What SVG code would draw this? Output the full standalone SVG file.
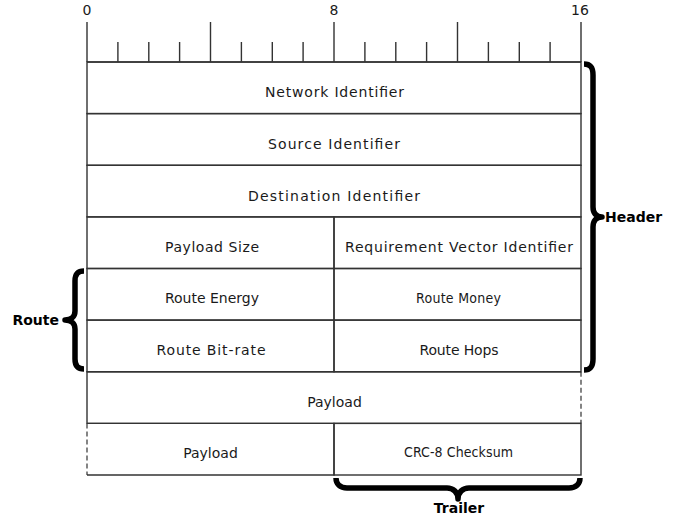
<svg xmlns="http://www.w3.org/2000/svg" width="684" height="516" viewBox="0 0 684 516">
<style>
.bg{fill:#ffffff}
.ln{stroke:#333333;stroke-width:1.4;fill:none}
.dash{stroke:#333333;stroke-width:1.2;fill:none;stroke-dasharray:5,3}
.t{font-family:"DejaVu Sans","Liberation Sans",sans-serif;font-size:14px;fill:#1a1a1a;text-anchor:middle}
.s{font-stretch:condensed}
.b{font-family:"DejaVu Sans","Liberation Sans",sans-serif;font-size:14px;font-weight:bold;fill:#000000}
.br{stroke:#000000;stroke-width:5.5;fill:none;stroke-linejoin:round}
</style>
<rect class="bg" x="0" y="0" width="684" height="516"/>
<g id="ruler">
<line class="ln" x1="87" y1="62" x2="581" y2="62"/>
<path class="ln" d="M87,22V62 M210.5,22V62 M334,22V62 M457.5,22V62 M581,22V62"/>
<path class="ln" d="M117.9,42V62 M148.8,42V62 M179.6,42V62 M241.4,42V62 M272.3,42V62 M303.1,42V62 M364.9,42V62 M395.8,42V62 M426.6,42V62 M488.4,42V62 M519.3,42V62 M550.1,42V62"/>
<text class="t" x="87" y="15">0</text>
<text class="t" x="334" y="15">8</text>
<text class="t" x="580" y="15">16</text>
</g>
<g id="network-identifier">
<rect class="ln" x="87" y="62" width="494" height="51.6"/>
<text class="t" x="334.5" y="96.7" textLength="139" lengthAdjust="spacing">Network Identifier</text>
</g>
<g id="source-identifier">
<rect class="ln" x="87" y="113.6" width="494" height="51.7"/>
<text class="t" x="334" y="149" textLength="132" lengthAdjust="spacing">Source Identifier</text>
</g>
<g id="destination-identifier">
<rect class="ln" x="87" y="165.3" width="494" height="51.6"/>
<text class="t" x="334" y="200.5" textLength="172" lengthAdjust="spacing">Destination Identifier</text>
</g>
<g id="payload-size">
<rect class="ln" x="87" y="216.9" width="247" height="51.6"/>
<text class="t" x="212" y="251.5" textLength="94" lengthAdjust="spacing">Payload Size</text>
</g>
<g id="requirement-vector-identifier">
<rect class="ln" x="334" y="216.9" width="247" height="51.6"/>
<text class="t" x="459" y="251.5" textLength="228" lengthAdjust="spacing">Requirement Vector Identifier</text>
</g>
<g id="route-energy">
<rect class="ln" x="87" y="268.5" width="247" height="51.6"/>
<text class="t" x="212" y="303">Route Energy</text>
</g>
<g id="route-money">
<rect class="ln" x="334" y="268.5" width="247" height="51.6"/>
<text class="t s" x="458.5" y="303" textLength="85" lengthAdjust="spacing">Route Money</text>
</g>
<g id="route-bit-rate">
<rect class="ln" x="87" y="320.1" width="247" height="51.7"/>
<text class="t" x="211" y="355" textLength="109" lengthAdjust="spacing">Route Bit-rate</text>
</g>
<g id="route-hops">
<rect class="ln" x="334" y="320.1" width="247" height="51.7"/>
<text class="t" x="459" y="355" textLength="79" lengthAdjust="spacing">Route Hops</text>
</g>
<g id="payload-1">
<path class="ln" d="M581,371.8H87V423.4H581"/>
<line class="dash" x1="581" y1="371.8" x2="581" y2="423.4"/>
<text class="t" x="334.5" y="406.5">Payload</text>
</g>
<g id="payload-2">
<path class="ln" d="M87,423.4H334V475H87"/>
<line class="dash" x1="87" y1="423.4" x2="87" y2="475"/>
<text class="t" x="210.5" y="458">Payload</text>
</g>
<g id="crc-8-checksum">
<rect class="ln" x="334" y="423.4" width="247" height="51.6"/>
<text class="t s" x="458.5" y="457" textLength="109" lengthAdjust="spacing">CRC-8 Checksum</text>
</g>
<g id="header-brace">
<path class="br" d="M584,64 C590,64 593,67 593,75 L593,207 C593,213 596,217 602,217 C596,217 593,221 593,227 L593,359 C593,367 590,370 584,370"/>
<text class="b" x="605" y="222">Header</text>
</g>
<g id="route-brace">
<path class="br" d="M84,271 C78,271 75,274 75,281 L75,311 C75,317 71,320 65,320 C71,320 75,323 75,329 L75,359 C75,366 78,369 84,369"/>
<text class="b" x="59" y="325" text-anchor="end">Route</text>
</g>
<g id="trailer-brace">
<path class="br" d="M336,478 C336,484 340,488 347,488 L447,488 C453,488 458,492 458,499 C458,492 463,488 469,488 L569,488 C576,488 580,484 580,478"/>
<text class="b" x="459" y="513" text-anchor="middle">Trailer</text>
</g>
</svg>
